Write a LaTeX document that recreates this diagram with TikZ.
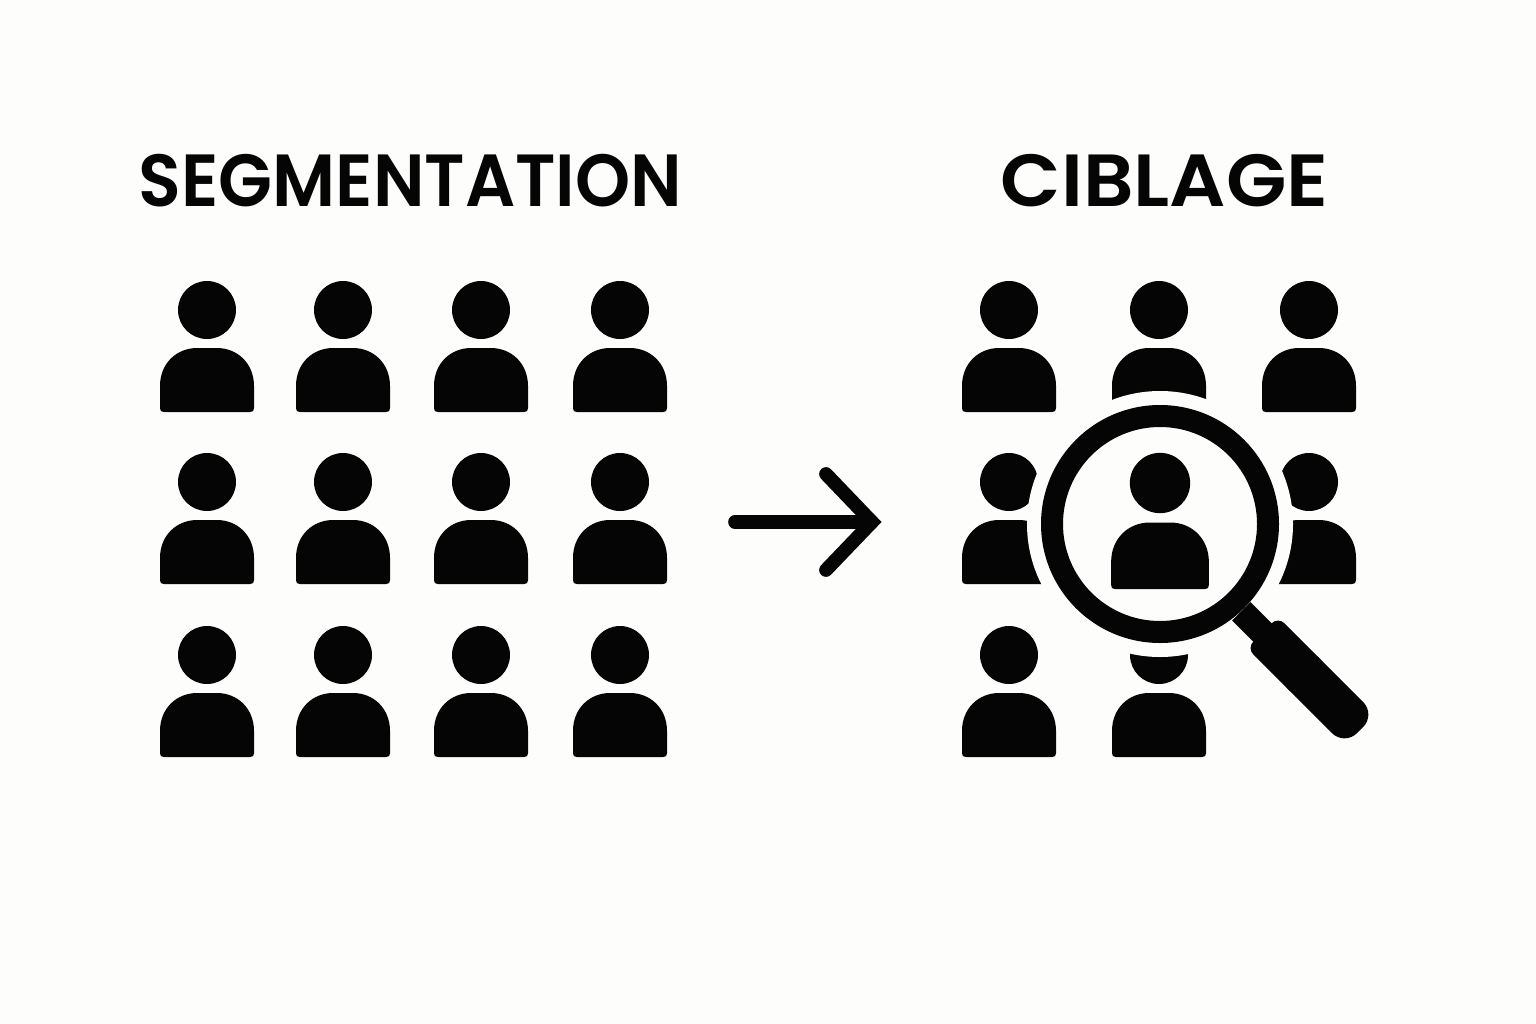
\documentclass[tikz,border=0pt]{standalone}
\usepackage{fontspec}
\setmainfont{Poppins}[BoldFont=Poppins SemiBold]
\definecolor{paper}{HTML}{FDFDFB}
\definecolor{ink}{HTML}{050505}
\tikzset{
  x=.01cm,
  y=-.01cm,
  person/.pic={
    \fill[ink] (0,0) circle (29);
    \fill[ink] (-47,98) -- (-47,76) .. controls (-47,53) and (-30,38) .. (-10,38)
      -- (10,38) .. controls (30,38) and (47,53) .. (47,76) -- (47,98)
      .. controls (47,101) and (46,102) .. (43,102) -- (-43,102)
      .. controls (-46,102) and (-47,101) .. (-47,98) -- cycle;
  },
}
\tikzstyle{title}=[font=\fontsize{21}{26}\selectfont\bfseries,text=ink,inner sep=0pt]
\tikzstyle{arrowline}=[draw=ink,line width=3.9pt,line cap=round]
\begin{document}
\begin{tikzpicture}
        \fill[paper] (0,0) rectangle (1536,1024);
        \node[title] (segmentation) at (410.5,181) {\scalebox{.95}[1]{SEGMENTATION}};
        \node[title] (ciblage) at (1164.5,181) {\scalebox{1.065}[1]{CIBLAGE}};
        \foreach \col in {207,343,481,620}
          \foreach \row in {310,482,655}
            \pic at (\col,\row) {person};
        \foreach \col/\row in {1009/310,1159/310,1309/310,1009/482,1309/482,1009/655,1159/655}
          \pic at (\col,\row) {person};
        \coordinate (arrowstart) at (735,522);
        \coordinate (arrowtip) at (872,522);
        \draw[arrowline] (arrowstart) -- (arrowtip);
        \draw[arrowline,line join=miter] (826,474) -- (arrowtip) -- (826,570);
        \coordinate (lens) at (1160,524);
        \fill[paper] (lens) circle (133);
        \fill[ink,even odd rule] (lens) circle (119) (lens) circle (97);
        \begin{scope}[shift={(1262.5,632.5)},rotate=-45]
          \fill[ink] (-30,-13) rectangle (5,13);
          \fill[ink,rounded corners=2.5pt] (0,-22) -- (69,-22) -- (69,22) -- (0,22) -- cycle;
          \fill[ink,rounded corners=5pt] (40,-22) -- (138,-22) -- (138,22) -- (40,22) -- cycle;
        \end{scope}
        \pic[scale=1.04] at (1160,483) {person};
      \end{tikzpicture}
\end{document}
